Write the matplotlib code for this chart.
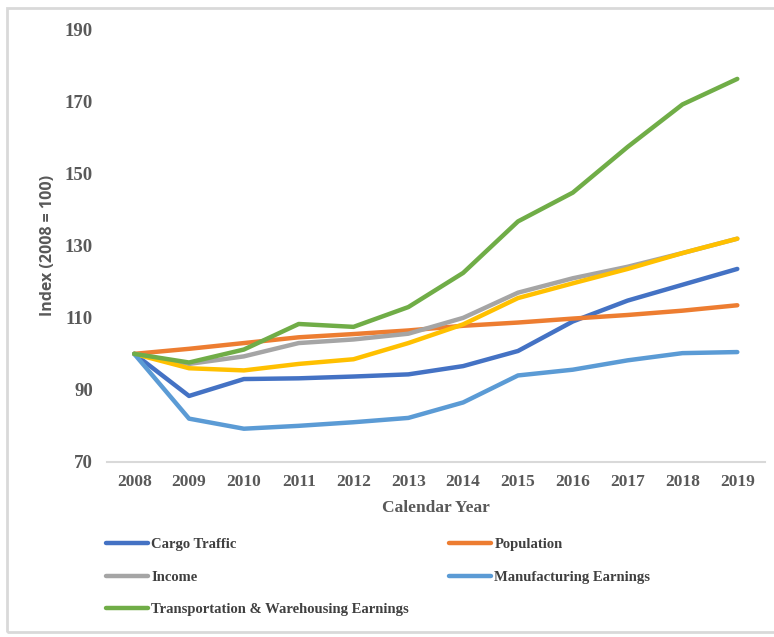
import matplotlib.pyplot as plt
from matplotlib.patches import Rectangle

years = [2008, 2009, 2010, 2011, 2012, 2013, 2014, 2015, 2016, 2017, 2018, 2019]

cargo = [100, 88.3, 93.0, 93.2, 93.7, 94.3, 96.6, 100.8, 109.0, 114.8, 119.2, 123.6]
population = [100, 101.4, 103.0, 104.6, 105.5, 106.5, 107.8, 108.7, 109.8, 110.8, 112.0, 113.5]
income = [100, 97.2, 99.3, 103.0, 104.0, 105.6, 110.0, 117.0, 121.0, 124.2, 128.0, 132.0]
other = [100, 96.0, 95.4, 97.2, 98.5, 103.0, 108.2, 115.5, 119.6, 123.6, 128.0, 132.0]
manufacturing = [100, 82.0, 79.2, 80.0, 81.0, 82.2, 86.5, 94.0, 95.6, 98.2, 100.2, 100.5]
transport = [100, 97.6, 101.2, 108.3, 107.5, 113.0, 122.5, 136.8, 144.8, 157.5, 169.3, 176.4]

fig = plt.figure(figsize=(7.74, 6.37), dpi=100)
ax = fig.add_axes([0.138, 0.275, 0.850, 0.678])

x = list(range(len(years)))
lw = 3.2
ax.plot(x, cargo, color='#4472C4', lw=lw, label='Cargo Traffic', solid_capstyle='round')
ax.plot(x, population, color='#ED7D31', lw=lw, label='Population', solid_capstyle='round')
ax.plot(x, income, color='#A5A5A5', lw=lw, label='Income', solid_capstyle='round')
ax.plot(x, other, color='#FFC000', lw=lw, solid_capstyle='round')
ax.plot(x, manufacturing, color='#5B9BD5', lw=lw, label='Manufacturing Earnings', solid_capstyle='round')
ax.plot(x, transport, color='#70AD47', lw=lw, label='Transportation & Warehousing Earnings', solid_capstyle='round')

ax.set_xlim(-0.5, len(years) - 0.5)
ax.set_ylim(70, 190)
ax.set_yticks(range(70, 191, 20))
ax.set_xticks(x)
ax.set_xticklabels([str(y) for y in years])

serif = {'family': 'Liberation Serif', 'weight': 'bold'}
for lab in ax.get_xticklabels():
    lab.set_fontproperties(serif)
    lab.set_fontsize(12.5)
    lab.set_color('#595959')
for lab in ax.get_yticklabels():
    lab.set_fontproperties(serif)
    lab.set_fontsize(13.5)
    lab.set_color('#595959')

ax.tick_params(axis='both', length=0)
ax.tick_params(axis='x', pad=9)
ax.tick_params(axis='y', pad=10)
for side in ['top', 'right', 'left']:
    ax.spines[side].set_visible(False)
ax.spines['bottom'].set_color('#d9d9d9')
ax.spines['bottom'].set_linewidth(1.5)

ax.set_xlabel('Calendar Year', fontdict=serif, fontsize=12.5, color='#595959', labelpad=7)
ax.set_ylabel('Index (2008 = 100)', family='Open Sans', weight='bold', fontsize=11.5,
              color='#595959', labelpad=6)

handles, labels = ax.get_legend_handles_labels()
order = [0, 2, 4, 1, 3]
leg = fig.legend([handles[i] for i in order], [labels[i] for i in order],
                 loc='upper left', bbox_to_anchor=(0.120, 0.176), ncol=2,
                 frameon=False, prop={'family': 'Liberation Serif', 'weight': 'bold', 'size': 10.5},
                 handlelength=2.9, handletextpad=0.2, labelspacing=1.33, columnspacing=2.75)
for t in leg.get_texts():
    t.set_color('#404040')

fig.patches.append(Rectangle((7 / 774, 5 / 637), 1, 624 / 637, transform=fig.transFigure,
                             fill=False, edgecolor='#d9d9d9', lw=2))

fig.savefig('out.png', dpi=100)
